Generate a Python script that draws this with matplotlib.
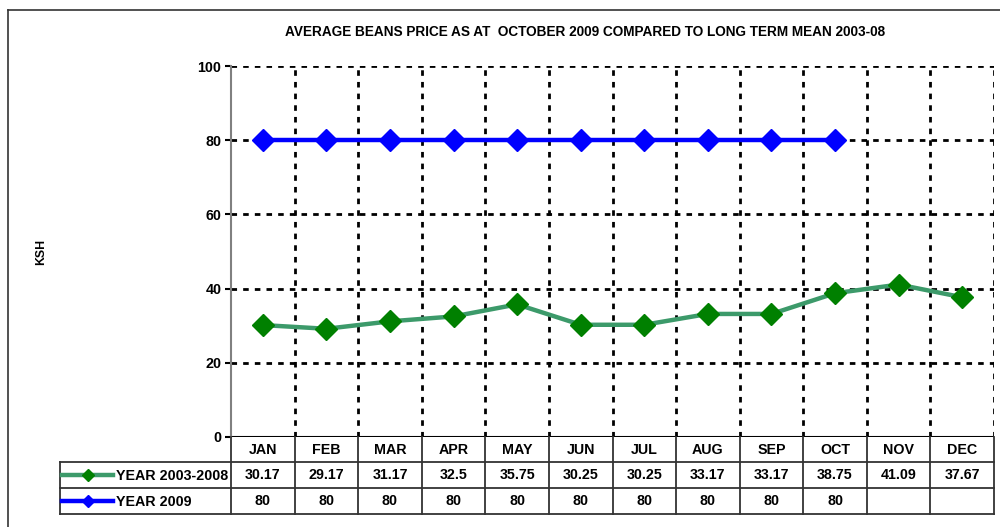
import matplotlib.pyplot as plt
from matplotlib.transforms import blended_transform_factory
from matplotlib.lines import Line2D

months = ["JAN", "FEB", "MAR", "APR", "MAY", "JUN", "JUL", "AUG", "SEP", "OCT", "NOV", "DEC"]
mean_0308 = [30.17, 29.17, 31.17, 32.5, 35.75, 30.25, 30.25, 33.17, 33.17, 38.75, 41.09, 37.67]
year_2009 = [80, 80, 80, 80, 80, 80, 80, 80, 80, 80]
labels_0308 = ["30.17", "29.17", "31.17", "32.5", "35.75", "30.25", "30.25", "33.17", "33.17", "38.75", "41.09", "37.67"]
labels_2009 = ["80"] * 10 + ["", ""]
yticks = [0, 20, 40, 60, 80, 100]

plt.rcParams['font.family'] = ['Liberation Sans', 'DejaVu Sans']
plt.rcParams['font.weight'] = 'bold'

W, H = 1000, 527
fig = plt.figure(figsize=(10, 5.27), dpi=100)

# outer chart border
fig.add_artist(Line2D([8 / W, 8 / W], [0, 1 - 10 / H], color='#333333', lw=1.2))
fig.add_artist(Line2D([8 / W, 1], [1 - 10 / H, 1 - 10 / H], color='#333333', lw=1.2))

left, right, top, bottom = 231, 994, 66, 437
ax = fig.add_axes([left / W, 1 - bottom / H, (right - left) / W, (bottom - top) / H])
ax.set_xlim(-0.5, 11.5)
ax.set_ylim(0, 100)

for s in ['top', 'right', 'bottom']:
    ax.spines[s].set_visible(False)
ax.spines['left'].set_color('#808080')
ax.spines['left'].set_linewidth(1.5)

grid_kw = dict(color='black', lw=2, linestyle=(0, (2, 2.2)), zorder=1)
for y in yticks[1:]:
    ax.axhline(y, **grid_kw)
for i in range(12):
    ax.axvline(i + 0.5, **grid_kw)
ax.axhline(0, color='black', lw=1.5, zorder=2)

ax.plot(range(12), mean_0308, color='#3c9a6a', lw=3.2, zorder=3)
ax.plot(range(12), mean_0308, ls='none', marker='D', ms=11, color='#008000', zorder=4)
ax.plot(range(10), year_2009, color='#0000ff', lw=3.2, marker='D', ms=11,
        markerfacecolor='#0000ff', markeredgecolor='#0000ff', zorder=4)

fs = 10.3
ax.set_yticks(yticks)
ax.set_yticklabels([str(v) for v in yticks], fontsize=fs, fontweight='bold')
ax.tick_params(axis='y', length=4, width=1.5, color='black', pad=3)
ax.set_xticks([])
ax.set_ylabel("KSH", fontsize=8.8, fontweight='bold', labelpad=0)
ax.yaxis.set_label_coords(-(left - 47) / (right - left), 0.5)

fig.text(585 / W, 1 - 32 / H, "AVERAGE BEANS PRICE AS AT  OCTOBER 2009 COMPARED TO LONG TERM MEAN 2003-08",
         ha='center', va='center', fontsize=9.8, fontweight='bold')

# data table below the axes
trans = blended_transform_factory(ax.transData, fig.transFigure)
def fy(py):
    return 1 - py / H

row_y = [437, 462, 488, 514]
lc = '#333333'
for i in range(13):
    x = i - 0.5
    fig.add_artist(Line2D([x, x], [fy(row_y[0]), fy(row_y[3])], transform=trans, color=lc, lw=1.3))
fig.add_artist(Line2D([60 / W, 60 / W], [fy(row_y[1]), fy(row_y[3])], color=lc, lw=1.3))
for py in row_y[1:]:
    fig.add_artist(Line2D([60 / W, right / W], [fy(py), fy(py)], color=lc, lw=1.3))

for i, m in enumerate(months):
    fig.text(i, fy(450), m, transform=trans, ha='center', va='center', fontsize=fs, fontweight='bold')
    fig.text(i, fy(475), labels_0308[i], transform=trans, ha='center', va='center', fontsize=fs, fontweight='bold')
    fig.text(i, fy(501), labels_2009[i], transform=trans, ha='center', va='center', fontsize=fs, fontweight='bold')

# legend keys in the table
for py, lcol, mcol, name in [(475, '#3c9a6a', '#008000', "YEAR 2003-2008"),
                              (501, '#0000ff', '#0000ff', "YEAR 2009")]:
    fig.add_artist(Line2D([62 / W, 113 / W], [fy(py), fy(py)], color=lcol, lw=3.2))
    fig.add_artist(Line2D([88 / W], [fy(py)], marker='D', ms=6, color=mcol, ls='none'))
    fig.text(116 / W, fy(py + 1), name, ha='left', va='center', fontsize=fs, fontweight='bold')

plt.savefig('out.png', dpi=100)
